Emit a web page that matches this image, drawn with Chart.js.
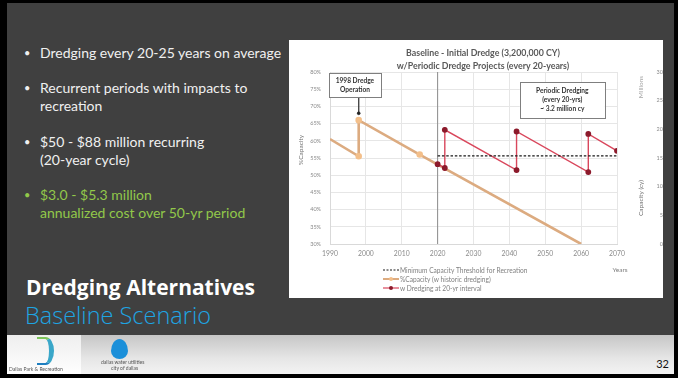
<!DOCTYPE html>
<html>
<head>
<meta charset="utf-8">
<script src="https://cdn.jsdelivr.net/npm/chart.js@4/dist/chart.umd.min.js"></script>
<style>
  html, body { margin: 0; padding: 0; background: #ffffff; }
  body { width: 686px; height: 378px; position: relative; overflow: hidden; font-family: Lato, "Open Sans", sans-serif; }
  #frame { position: absolute; left: 0; top: 0; width: 678px; height: 378px; background: #000; }
  #slide { position: absolute; left: 7px; top: 3px; width: 667px; height: 371px; background: #404040; overflow: hidden; }
  #bullets { position: absolute; left: 0; top: 0; width: 285px; }
  .b { position: absolute; left: 33px; color: #f0f0f0; font-size: 14px; line-height: 18px; white-space: nowrap; }
  .b::before { content: "\2022"; position: absolute; left: -16px; font-size: 11px; }
  .green { color: #92c84a; }
  #h1 { position: absolute; left: 19px; top: 270px; color: #ffffff; font: bold 21px "Open Sans", Lato, sans-serif; white-space: nowrap; }
  #h2 { position: absolute; left: 18px; top: 296px; color: #1ea5e3; font: 300 23.5px "Open Sans", Lato, sans-serif; white-space: nowrap; }
  #footer { position: absolute; left: 0; top: 332px; width: 667px; height: 39px;
            background: linear-gradient(#c6c6c6, #e6e6e6 60%, #f3f3f3); }
  #logoArea { position: absolute; left: 0; top: 0; width: 74px; height: 39px; background: linear-gradient(#eeeeee, #ffffff); }
  #swoosh { position: absolute; left: 30px; top: 2px; width: 12px; height: 24px; border-radius: 0 50% 50% 0 / 0 50% 50% 0;
            border-right: 5px solid #3aa7c9; border-top: 2px solid #7cc35a; border-bottom: 2px solid #1f7fc0; filter: blur(0.7px); }
  #drop { position: absolute; left: 104px; top: 4px; width: 17px; height: 20px; background: #1b8fd9; border-radius: 50% 50% 50% 50% / 60% 60% 40% 40%; filter: blur(0.5px); }
  .tiny { position: absolute; font-size: 5px; color: #555; white-space: nowrap; filter: blur(0.4px); }
  #pageno { position: absolute; right: 5px; top: 22px; font: 11px Lato, sans-serif; color: #111; }
  #chartBox { position: absolute; left: 282px; top: 37px; width: 374px; height: 258px; background: #ffffff; }
  canvas { display: block; }
</style>
</head>
<body>
<div id="frame"></div>
<div id="slide">
  <div id="bullets">
    <div class="b" style="top:41px">Dredging every 20-25 years on average</div>
    <div class="b" style="top:76px">Recurrent periods with impacts to<br>recreation</div>
    <div class="b" style="top:130px">$50 - $88 million recurring<br>(20-year cycle)</div>
    <div class="b green" style="top:183px">$3.0 - $5.3 million<br>annualized cost over 50-yr period</div>
  </div>
  <div id="h1">Dredging Alternatives</div>
  <div id="h2">Baseline Scenario</div>
  <div id="chartBox"><canvas id="chart" width="374" height="258"></canvas></div>
  <div id="footer">
    <div id="logoArea"></div>
    <div id="swoosh"></div>
    <div class="tiny" style="left:2px;top:31px">Dallas Park &amp; Recreation</div>
    <div id="drop"></div>
    <div class="tiny" style="left:94px;top:24px">dallas water utilities</div>
    <div class="tiny" style="left:104px;top:30px">city of dallas</div>
    <div id="pageno">32</div>
  </div>
</div>

<script>
// Reservoir capacity (% of original) over time
const thresholdYears = [2020, 2070];
const thresholdPct   = [55.6, 55.6];

const historicYears = [1990, 1998, 1998, 2015, 2060];
const historicPct   = [60.5, 55.5, 66.0, 56.0, 30.0];

const dredgeYears = [2020, 2022, 2022, 2042, 2042, 2062, 2062, 2070];
const dredgePct   = [53.2, 52.1, 63.2, 51.5, 62.7, 50.9, 62.0, 57.1];

// 2020 reference line and the 1998 callout leader
const nowLineYears = [2020, 2020];
const nowLinePct   = [30, 80];
const calloutYears = [1998, 1998];
const calloutPct   = [72.7, 68.0];

const seriesLabels = [
  'Minimum Capacity Threshold for Recreation',
  '%Capacity (w historic dredging)',
  'w Dredging at 20-yr interval'
];

const titleLines = ['Baseline - Initial Dredge (3,200,000 CY)', 'w/Periodic Dredge Projects (every 20-years)'];
const xTicks = [1990, 2000, 2010, 2020, 2030, 2040, 2050, 2060, 2070];

// Text boxes placed in data coordinates [x0, x1, yTop, yBottom]
const noteBoxes = [
  { lines: ['1998 Dredge', 'Operation'], rect: [1989.7, 2004.2, 79.7, 72.7] },
  { lines: ['Periodic Dredging', '(every 20-yrs)', '~ 3.2 million cy'], rect: [2042.9, 2066.6, 77.1, 66.6] }
];

const pts = (xs, ys) => xs.map((x, i) => ({ x, y: ys[i] }));

const COLORS = {
  threshold: '#1a1a1a',
  historic: '#dcab80',
  historicPoint: '#f3bf8a',
  dredge: '#d9475c',
  dredgePoint: '#8c1a2b',
  nowLine: '#8c8c8c',
  text: '#595959',
  tick: '#8a8a8a',
  grid: '#e6e6e6'
};

const overlay = {
  id: 'overlay',
  afterDatasetsDraw(chart) {
    const { ctx, scales: { x, y } } = chart;
    ctx.save();
    noteBoxes.forEach(b => {
      const [x0, x1, yt, yb] = b.rect;
      const L = x.getPixelForValue(x0), R = x.getPixelForValue(x1);
      const T = y.getPixelForValue(yt), B = y.getPixelForValue(yb);
      ctx.fillStyle = '#ffffff';
      ctx.fillRect(L, T, R - L, B - T);
      ctx.strokeStyle = '#7f7f7f';
      ctx.lineWidth = 1;
      ctx.strokeRect(Math.round(L) + 0.5, Math.round(T) + 0.5, Math.round(R - L), Math.round(B - T));
      ctx.fillStyle = '#333333';
      ctx.font = 'bold 6.6px Lato';
      ctx.textAlign = 'center';
      ctx.textBaseline = 'middle';
      const cx = (L + R) / 2, lh = 9;
      const start = (T + B) / 2 - lh * (b.lines.length - 1) / 2;
      b.lines.forEach((t, i) => ctx.fillText(t, cx, start + i * lh));
    });
    ctx.restore();
  },
  afterDraw(chart) {
    const { ctx } = chart;
    ctx.save();
    // chart title
    ctx.fillStyle = COLORS.text;
    ctx.font = 'bold 8.8px Lato';
    ctx.textAlign = 'center';
    ctx.textBaseline = 'middle';
    ctx.fillText(titleLines[0], 194, 13);
    ctx.fillText(titleLines[1], 194, 26);

    // axis titles
    ctx.font = '6.5px Lato';
    ctx.fillStyle = '#6f6f6f';
    ctx.translate(12, 110);
    ctx.rotate(-Math.PI / 2);
    ctx.fillText('%Capacity', 0, 0);
    ctx.setTransform(1, 0, 0, 1, 0, 0);
    ctx.translate(352, 158);
    ctx.rotate(-Math.PI / 2);
    ctx.fillText('Capacity (cy)', 0, 0);
    ctx.setTransform(1, 0, 0, 1, 0, 0);
    ctx.fillStyle = '#a6a6a6';
    ctx.translate(352, 47);
    ctx.rotate(-Math.PI / 2);
    ctx.fillText('Millions', 0, 0);
    ctx.setTransform(1, 0, 0, 1, 0, 0);

    ctx.fillStyle = '#7f7f7f';
    ctx.font = '6.5px Lato';
    ctx.fillText('Years', 331, 230);

    // legend
    const rows = [230, 239, 248];
    const sx = 94, sw = 16;
    ctx.textAlign = 'left';
    ctx.font = '6.6px Lato';
    rows.forEach((ry, i) => {
      ctx.lineWidth = i === 1 ? 2 : 1.2;
      if (i === 0) {
        ctx.strokeStyle = COLORS.threshold;
        ctx.setLineDash([2, 1.5]);
      } else {
        ctx.strokeStyle = i === 1 ? COLORS.historic : COLORS.dredge;
        ctx.setLineDash([]);
      }
      ctx.beginPath();
      ctx.moveTo(sx, ry);
      ctx.lineTo(sx + sw, ry);
      ctx.stroke();
      if (i > 0) {
        ctx.fillStyle = i === 1 ? COLORS.historicPoint : COLORS.dredgePoint;
        ctx.beginPath();
        ctx.arc(sx + sw / 2, ry, 2, 0, Math.PI * 2);
        ctx.fill();
      }
      ctx.fillStyle = '#7f7f7f';
      ctx.fillText(seriesLabels[i], sx + sw + 1, ry + 0.5);
    });
    ctx.restore();
  }
};

Chart.defaults.font.family = 'Lato';

new Chart(document.getElementById('chart'), {
  type: 'line',
  data: {
    datasets: [
      {
        label: seriesLabels[0],
        data: pts(thresholdYears, thresholdPct),
        borderColor: COLORS.threshold,
        borderWidth: 1.3,
        borderDash: [2.5, 1.8],
        pointRadius: 0,
        order: 0
      },
      {
        label: seriesLabels[2],
        data: pts(dredgeYears, dredgePct),
        borderColor: COLORS.dredge,
        borderWidth: 1.4,
        pointRadius: 2.2,
        pointBackgroundColor: COLORS.dredgePoint,
        pointBorderColor: COLORS.dredgePoint,
        order: 1
      },
      {
        label: seriesLabels[1],
        data: pts(historicYears, historicPct),
        borderColor: COLORS.historic,
        borderWidth: 2.6,
        pointRadius: [0, 2, 2, 2, 0],
        pointBackgroundColor: COLORS.historicPoint,
        pointBorderColor: COLORS.historicPoint,
        order: 2
      },
      {
        label: 'callout',
        data: pts(calloutYears, calloutPct),
        borderColor: '#404040',
        borderWidth: 0.8,
        pointRadius: [0, 1.4],
        pointBackgroundColor: '#222',
        pointBorderColor: '#222',
        order: 3
      },
      {
        label: '2020',
        data: pts(nowLineYears, nowLinePct),
        borderColor: COLORS.nowLine,
        borderWidth: 1,
        pointRadius: 0,
        order: 4
      }
    ]
  },
  options: {
    responsive: false,
    animation: false,
    devicePixelRatio: 1,
    layout: { padding: { top: 32, left: 0, right: 0, bottom: 0 } },
    plugins: { legend: { display: false }, title: { display: false }, tooltip: { enabled: false } },
    elements: { line: { tension: 0 } },
    scales: {
      x: {
        type: 'linear',
        min: 1990, max: 2070,
        afterFit(s) { s.height = 54; },
        afterBuildTicks(s) { s.ticks = xTicks.map(v => ({ value: v })); },
        ticks: { callback: v => String(v), color: COLORS.tick, font: { size: 6.8 }, padding: 6, maxRotation: 0 },
        grid: { color: COLORS.grid, drawTicks: false },
        border: { color: '#d9d9d9' }
      },
      y: {
        position: 'left',
        min: 30, max: 80,
        afterFit(s) { s.width = 41; },
        ticks: { stepSize: 5, callback: v => v + '%', color: COLORS.tick, font: { size: 5.5 }, padding: 9 },
        grid: { color: COLORS.grid, drawTicks: false },
        border: { color: '#d9d9d9' }
      },
      y2: {
        position: 'right',
        min: 0, max: 30,
        afterFit(s) { s.width = 46; },
        ticks: { stepSize: 5, color: COLORS.tick, font: { size: 5.5 }, padding: 8, crossAlign: 'far' },
        grid: { display: false, drawTicks: false },
        border: { display: false }
      }
    }
  },
  plugins: [overlay]
});
</script>
</body>
</html>
